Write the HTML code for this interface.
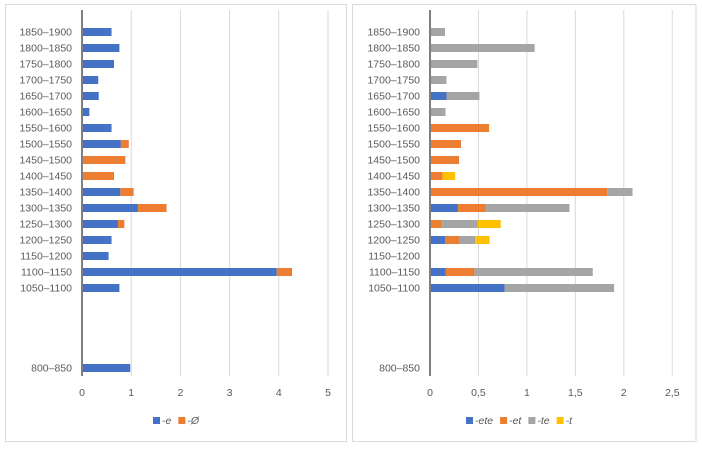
<!DOCTYPE html>
<html><head><meta charset="utf-8">
<style>
body{margin:0;background:#fff;width:702px;height:450px;overflow:hidden;font-family:"Liberation Sans",sans-serif}
svg{position:absolute;left:0;top:0}
text{font-family:"Liberation Sans",sans-serif;font-size:10.5px;fill:#595959}
</style></head><body>
<svg id="c" width="702" height="450"></svg>
<script>
const categories=["1850–1900","1800–1850","1750–1800","1700–1750","1650–1700","1600–1650","1550–1600","1500–1550","1450–1500","1400–1450","1350–1400","1300–1350","1250–1300","1200–1250","1150–1200","1100–1150","1050–1100","","","","","800–850"];
const leftE=[0.6,0.76,0.65,0.33,0.34,0.15,0.6,0.79,0,0,0.78,1.14,0.73,0.6,0.54,3.96,0.76,0,0,0,0,0.98];
const leftO=[0,0,0,0,0,0,0,0.16,0.88,0.65,0.27,0.58,0.13,0,0,0.31,0,0,0,0,0,0];
const rightEte=[0,0,0,0,0.17,0,0,0,0,0,0,0.29,0,0.155,0,0.16,0.77,0,0,0,0,0];
const rightEt=[0,0,0,0,0,0,0.61,0.32,0.30,0.13,1.83,0.29,0.12,0.15,0,0.30,0,0,0,0,0,0];
const rightTe=[0.155,1.08,0.49,0.17,0.34,0.16,0,0,0,0,0.26,0.86,0.37,0.16,0,1.22,1.13,0,0,0,0,0];
const rightT=[0,0,0,0,0,0,0,0,0,0.13,0,0,0.24,0.15,0,0,0,0,0,0,0,0];
const leftTicks=["0","1","2","3","4","5"];
const rightTicks=["0","0,5","1","1,5","2","2,5"];
const NS="http://www.w3.org/2000/svg";
const svg=document.getElementById('c');
function mk(tag,at,parent){const e=document.createElementNS(NS,tag);for(const k in at)e.setAttribute(k,at[k]);(parent||svg).appendChild(e);return e;}
function panel(px,pw,x0,unit,tickStep,ticks,series,colors,names,legX,pname){
  const g=mk('g',{});
  
  
  const bx=mk('rect',{x:px,y:4.5,width:pw,height:437,fill:'#fff',stroke:'#d9d9d9'},g);
  
  
  const xs=v=>x0+v*unit;
  const top=24,rowH=16;
  const yc=i=>top+rowH*i+rowH/2;
  ticks.forEach((t,i)=>{
    const x=xs(i*tickStep);
    if(i>0){const l=mk('line',{x1:x,x2:x,y1:10,y2:376,stroke:'#d9d9d9'},g);
      
      }
    const tx=mk('text',{x:x,y:396,'text-anchor':'middle'},g);tx.textContent=t;
    
    
  });
  categories.forEach((c,i)=>{
    const t=mk('text',{x:x0-10,y:yc(i)+3.5,'text-anchor':'end'},g);t.textContent=c;
    
    
    let acc=0;
    series.forEach((s,k)=>{
      const v=s[i];
      if(v>0){const r=mk('rect',{x:xs(acc),y:yc(i)-4,width:v*unit,height:8,fill:colors[k]},g);
        
        }
      acc+=v;
    });
  });
  const ax=mk('line',{x1:x0,x2:x0,y1:10,y2:376,stroke:'#7f7f7f','stroke-width':2},g);
  
  
  let lx=legX;
  names.forEach((n,k)=>{
    const r=mk('rect',{x:lx,y:417,width:7,height:7,fill:colors[k]},g);
    
    
    const t=mk('text',{x:lx+9,y:424,'font-style':'italic'},g);t.textContent=n;
    
    
    lx+=9+t.getComputedTextLength()+7;
  });
}
panel(5.5,341,82,49.2,1,leftTicks,[leftE,leftO],['#4472c4','#ed7d31'],['-e','-Ø'],153,'left-chart');
panel(352.5,343.5,430,96.9,0.5,rightTicks,[rightEte,rightEt,rightTe,rightT],['#4472c4','#ed7d31','#a5a5a5','#ffc000'],['-ete','-et','-te','-t'],466,'right-chart');
</script>
</body></html>
